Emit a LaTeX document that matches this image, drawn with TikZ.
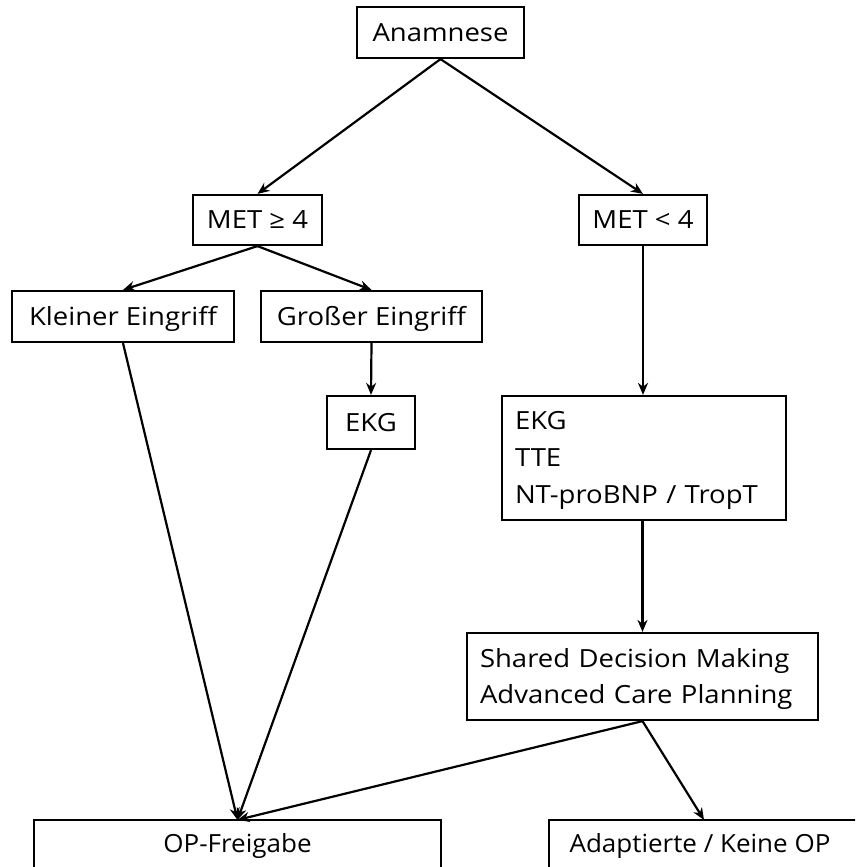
\documentclass[tikz,border=0pt]{standalone}
\usepackage{fontspec}
\setmainfont[FakeStretch=1.1]{Open Sans}
\newfontfamily\bottomfont[FakeStretch=1.04]{Open Sans}
\usetikzlibrary{arrows.meta}
\begin{document}
\begin{tikzpicture}[x=1pt,y=-1pt,
  box/.style={draw=black, line width=2.2pt, fill=white, inner sep=0pt,
    text height=17.85pt, text depth=0pt, font=\fontsize{25}{30}\selectfont},
  multibox/.style={box, align=left, text height=17.85pt},
  openbox/.style={box, draw=none, fill=none, font=\bottomfont\fontsize{25}{30}\selectfont},
  arr/.style={line width=2.2pt, -{Stealth[length=12pt,width=10pt]}},
  ln/.style={line width=2.2pt}]
\useasboundingbox (0,0) rectangle (855,867);
\clip (0,0) rectangle (855,867);
\fill[white] (0,0) rectangle (855,867);
\node[box, minimum width=167pt, minimum height=51pt] (ana) at (440.5,32.5) {Anamnese};
\node[box, minimum width=129pt, minimum height=50pt] (met1) at (257.5,220) {MET ≥ 4};
\node[box, minimum width=128pt, minimum height=50pt] (met2) at (643,220) {MET < 4};
\node[box, minimum width=222pt, minimum height=51pt] (klein) at (123,316.5) {Kleiner Eingriff};
\node[box, minimum width=221pt, minimum height=51pt] (gross) at (371.5,316.5) {Großer Eingriff};
\node[box, minimum width=88pt, minimum height=53pt] (ekg) at (371,422.5) {EKG};
\node[multibox, minimum width=284pt, minimum height=124pt, text width=258pt, text depth=74pt,
  font=\fontsize{25}{37}\selectfont] (tests) at (644,458) {EKG\\TTE\\NT-proBNP / TropT};
\node[multibox, minimum width=351pt, minimum height=87pt, text width=325pt, text depth=36pt,
  font=\fontsize{25}{36}\selectfont] (shared) at (642.5,676.5) {Shared Decision Making\\Advanced Care Planning};
\node[openbox, minimum width=405pt, minimum height=46pt] (op) at (237.5,844) {OP-Freigabe};
\node[openbox, minimum width=308pt, minimum height=46pt] (adapt) at (704,844) {\kern-8pt Adaptierte / Keine OP};
\draw[ln] ([yshift=-20pt]op.south west) -- (op.north west) -- (op.north east) -- ([yshift=-20pt]op.south east);
\draw[ln] ([yshift=-20pt]adapt.south west) -- (adapt.north west) -- (adapt.north east) -- ([yshift=-20pt]adapt.south east);
\draw[arr] (ana.south) -- (met1.north);
\draw[arr] (ana.south) -- (met2.north);
\draw[arr] (met1.south) -- (klein.north);
\draw[arr] (met1.south) -- (gross.north);
\draw[arr] (met2.south) -- (met2.south |- tests.north);
\draw[arr] (gross.south) -- (ekg.north);
\draw[arr] (klein.south) -- (op.north);
\draw[arr] (ekg.south) -- (op.north);
\draw[arr] (tests.south -| shared.north) -- (shared.north);
\draw[arr] (shared.south) -- (op.north);
\draw[arr] (shared.south) -- (adapt.north);
\end{tikzpicture}
\end{document}
